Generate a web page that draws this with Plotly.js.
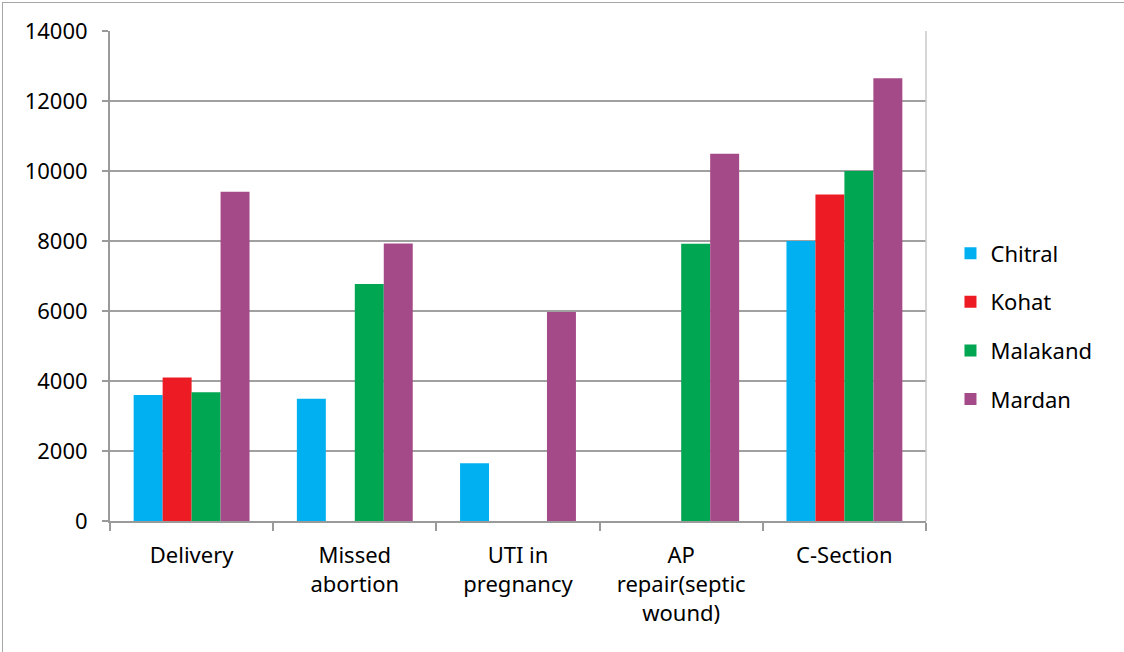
<!DOCTYPE html>
<html>
<head>
<meta charset="utf-8">
<script src="https://cdn.plot.ly/plotly-3.0.1.min.js"></script>
<style>
  html, body { margin: 0; padding: 0; background: #ffffff; }
  #wrap { position: relative; width: 1124px; height: 652px; overflow: hidden; }
  #chart { position: absolute; left: 0; top: 0; width: 1124px; height: 652px; }
  #frame { position: absolute; left: 2px; top: 2px; width: 1200px; height: 700px;
           border-left: 1px solid #a6a6a6; border-top: 1px solid #a6a6a6; pointer-events: none; }
</style>
</head>
<body>
<div id="wrap">
  <div id="chart"></div>
  <div id="frame"></div>
</div>
<script>
const categories = ["Delivery", "Missed<br>abortion", "UTI in<br>pregnancy", "AP<br>repair(septic<br>wound)", "C-Section"];
const seriesNames = ["Chitral", "Kohat", "Malakand", "Mardan"];
const chitral  = [3600, 3490, 1650, null, 8000];
const kohat    = [4100, null, null, null, 9330];
const malakand = [3680, 6770, null, 7920, 10000];
const mardan   = [9410, 7930, 5970, 10490, 12650];
const colors = ["#00B0F0", "#ED1C24", "#00A651", "#A54A88"];
const yTicks = [0, 2000, 4000, 6000, 8000, 10000, 12000, 14000];

const seriesValues = [chitral, kohat, malakand, mardan];
const traces = seriesNames.map((name, i) => ({
  type: "bar",
  name: name,
  x: categories,
  y: seriesValues[i],
  legendgroup: name,
  marker: { color: colors[i], line: { width: 0 } },
  hoverinfo: "x+y+name"
}));

const fontFam = "Noto Sans, Open Sans, DejaVu Sans, sans-serif";

const layout = {
  width: 1124,
  height: 652,
  margin: { l: 110, r: 198, t: 31, b: 131, pad: 0 },
  paper_bgcolor: "#ffffff",
  plot_bgcolor: "#ffffff",
  font: { family: fontFam, size: 22, color: "#000000" },
  barmode: "group",
  bargap: 0.29,
  bargroupgap: 0,
  showlegend: true,
  legend: {
    x: 1.03, xanchor: "left",
    y: 0.397, yanchor: "middle",
    font: { family: fontFam, size: 22, color: "#000000" },
    tracegroupgap: 17,
    bgcolor: "rgba(0,0,0,0)"
  },
  xaxis: {
    type: "category",
    showgrid: false,
    showline: true,
    linecolor: "#9a9a9a",
    linewidth: 2,
    ticks: "outside",
    tickson: "boundaries",
    ticklen: 8,
    tickcolor: "#9a9a9a",
    tickwidth: 2,
    tickfont: { family: fontFam, size: 22, color: "#000000" },
    ticklabelstandoff: 14,
    zeroline: false,
    fixedrange: true
  },
  yaxis: {
    range: [0, 14000],
    tickvals: yTicks,
    ticktext: yTicks.map(String),
    showgrid: true,
    gridcolor: "#a0a0a0",
    gridwidth: 1.6,
    showline: true,
    linecolor: "#9a9a9a",
    linewidth: 2,
    ticks: "outside",
    ticklen: 6,
    tickcolor: "#9a9a9a",
    tickwidth: 2,
    tickfont: { family: fontFam, size: 22, color: "#000000" },
    ticklabelstandoff: 10,
    zeroline: false,
    fixedrange: true
  },
  shapes: [
    { type: "line", xref: "paper", yref: "paper", x0: 1, x1: 1, y0: 0, y1: 1,
      line: { color: "#c8c8c8", width: 1.5 } }
  ]
};

Plotly.newPlot("chart", traces, layout, { displayModeBar: false, staticPlot: true });
</script>
</body>
</html>
